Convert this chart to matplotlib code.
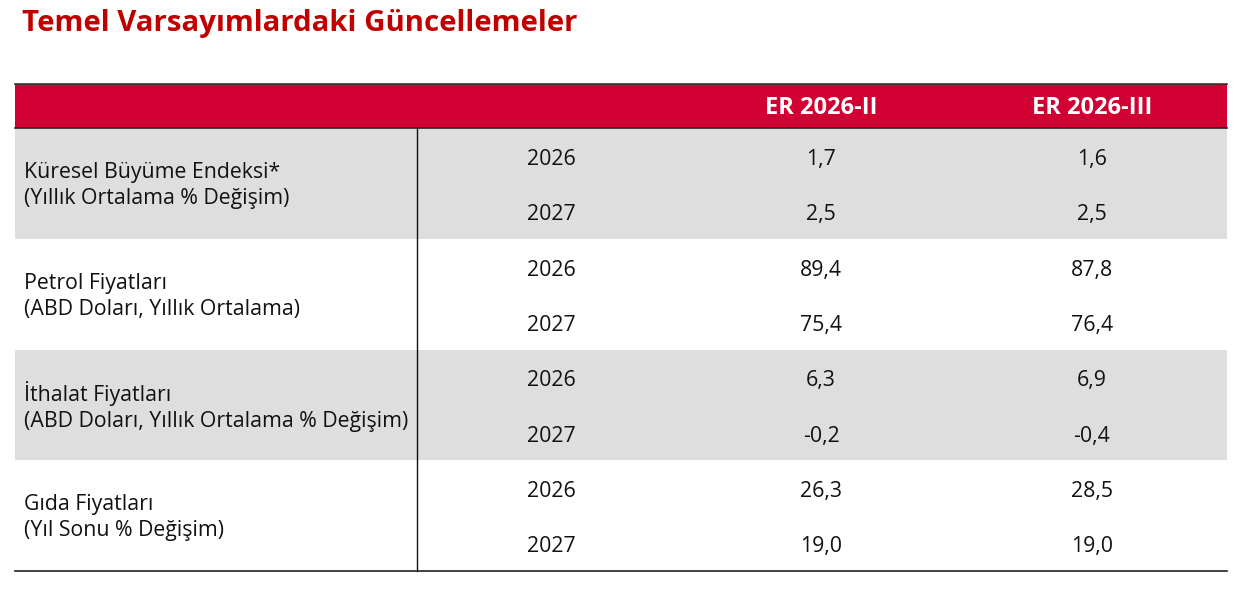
import matplotlib
matplotlib.use("Agg")
import matplotlib.pyplot as plt
from matplotlib.patches import Rectangle

# ---- data ----
title = "Temel Varsayımlardaki Güncellemeler"
columns = ["ER 2026-II", "ER 2026-III"]
categories = [
    "Küresel Büyüme Endeksi*\n(Yıllık Ortalama % Değişim)",
    "Petrol Fiyatları\n(ABD Doları, Yıllık Ortalama)",
    "İthalat Fiyatları\n(ABD Doları, Yıllık Ortalama % Değişim)",
    "Gıda Fiyatları\n(Yıl Sonu % Değişim)",
]
years = ["2026", "2027"]
er_2026_ii = ["1,7", "2,5", "89,4", "75,4", "6,3", "-0,2", "26,3", "19,0"]
er_2026_iii = ["1,6", "2,5", "87,8", "76,4", "6,9", "-0,4", "28,5", "19,0"]

# ---- layout (pixel units) ----
W, H = 1244, 599
RED = "#D20032"
TITLE_RED = "#C00000"
GRAY = "#DEDEDE"
left, right = 15, 1227
top, head_bot = 84, 128
group_h = 110.75
vline_x = 417
year_x = 551
col_x = [821, 1092]
label_x = 24
FONT = "Open Sans"
BODY = 15.3

fig = plt.figure(figsize=(W / 100, H / 100), dpi=100)
ax = fig.add_axes([0, 0, 1, 1])
ax.set_xlim(0, W)
ax.set_ylim(H, 0)
ax.axis("off")

ax.text(22, 23, title, fontsize=21.2, fontweight="bold", color=TITLE_RED,
        family=FONT, va="center", ha="left")

# header
ax.add_patch(Rectangle((left, top), right - left, head_bot - top, color=RED, lw=0))
ax.plot([left, right], [top, top], color="#333333", lw=1.2)
ax.plot([left, right], [head_bot, head_bot], color="#222222", lw=1.2)
for cx, name in zip(col_x, columns):
    ax.text(cx, (top + head_bot) / 2 + 2, name, fontsize=17, fontweight="bold",
            color="white", family=FONT, ha="center", va="center")

bottom = head_bot + group_h * len(categories)
for g, cat in enumerate(categories):
    y0 = head_bot + g * group_h
    if g % 2 == 0:
        ax.add_patch(Rectangle((left, y0), right - left, group_h, color=GRAY, lw=0))
    ax.text(label_x, y0 + group_h / 2 + 2, cat, fontsize=BODY, family=FONT,
            color="#111111", ha="left", va="center", linespacing=1.32)
    for k, yr in enumerate(years):
        yc = y0 + group_h * (0.26 + 0.5 * k) + 2.5
        i = g * 2 + k
        ax.text(year_x, yc, yr, fontsize=BODY, family=FONT, color="#111111",
                ha="center", va="center")
        ax.text(col_x[0], yc, er_2026_ii[i], fontsize=BODY, family=FONT,
                color="#111111", ha="center", va="center")
        ax.text(col_x[1], yc, er_2026_iii[i], fontsize=BODY, family=FONT,
                color="#111111", ha="center", va="center")

ax.plot([vline_x, vline_x], [head_bot, bottom], color="#111111", lw=1.0)
ax.plot([left, right], [bottom, bottom], color="#222222", lw=1.2)

fig.savefig("out.png", dpi=100)
